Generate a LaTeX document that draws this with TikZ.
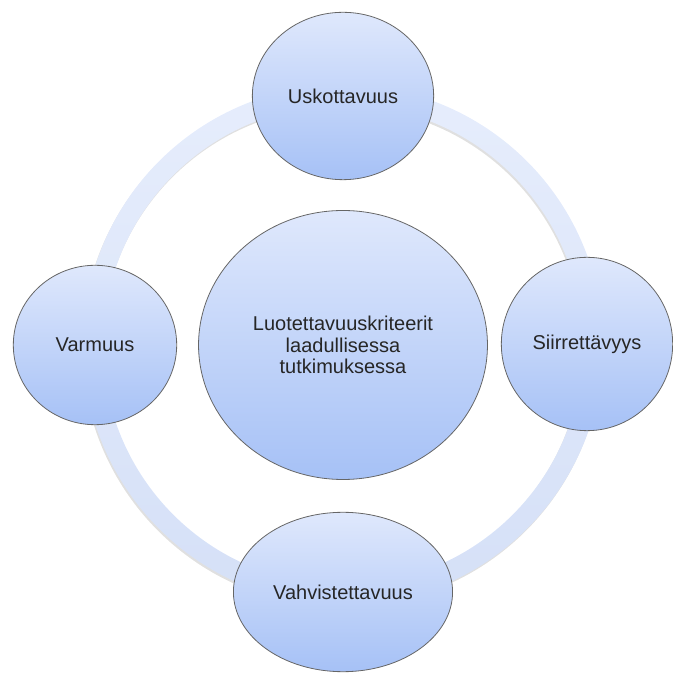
\documentclass[tikz,border=0pt]{standalone}
\usepackage{fontspec}
\setmainfont{Liberation Sans}
\usetikzlibrary{shapes.geometric}

\definecolor{bubtop}{HTML}{DFE8FC}
\definecolor{bubbot}{HTML}{A6C1F6}
\definecolor{ringtop}{HTML}{E6EDFC}
\definecolor{ringbot}{HTML}{D5E0F7}
\definecolor{inkgray}{HTML}{262626}

\tikzset{
  bubble/.style={ellipse, draw=black!60, line width=0.8bp, top color=bubtop, bottom color=bubbot,
    inner sep=0pt, align=center, text=inkgray, font=\fontsize{20bp}{21.5bp}\selectfont},
}

\begin{document}
\begin{tikzpicture}[x=1bp, y=1bp]
\useasboundingbox (0,0) rectangle (673,673);
\coordinate (hub) at (343,328);
% ring behind the bubbles
\fill[black, opacity=0.12, even odd rule] ([shift={(-1,-2)}]hub) circle (260) circle (240);
\path[even odd rule, top color=ringtop, bottom color=ringbot] (hub) circle (260) circle (240);
% bubbles
\node[bubble, minimum width=290, minimum height=270] (kriteerit) at (hub) {Luotettavuuskriteerit\\laadullisessa\\tutkimuksessa};
\node[bubble, minimum width=182, minimum height=168] (usko) at (343,577) {Uskottavuus};
\node[bubble, minimum width=164, minimum height=160] (varmuus) at (95,328) {Varmuus};
\node[bubble, minimum width=172, minimum height=174] (siirto) at (587,329) {Siirrettävyys};
\node[bubble, minimum width=220, minimum height=160] (vahvistus) at (343,81) {Vahvistettavuus};
\end{tikzpicture}
\end{document}
